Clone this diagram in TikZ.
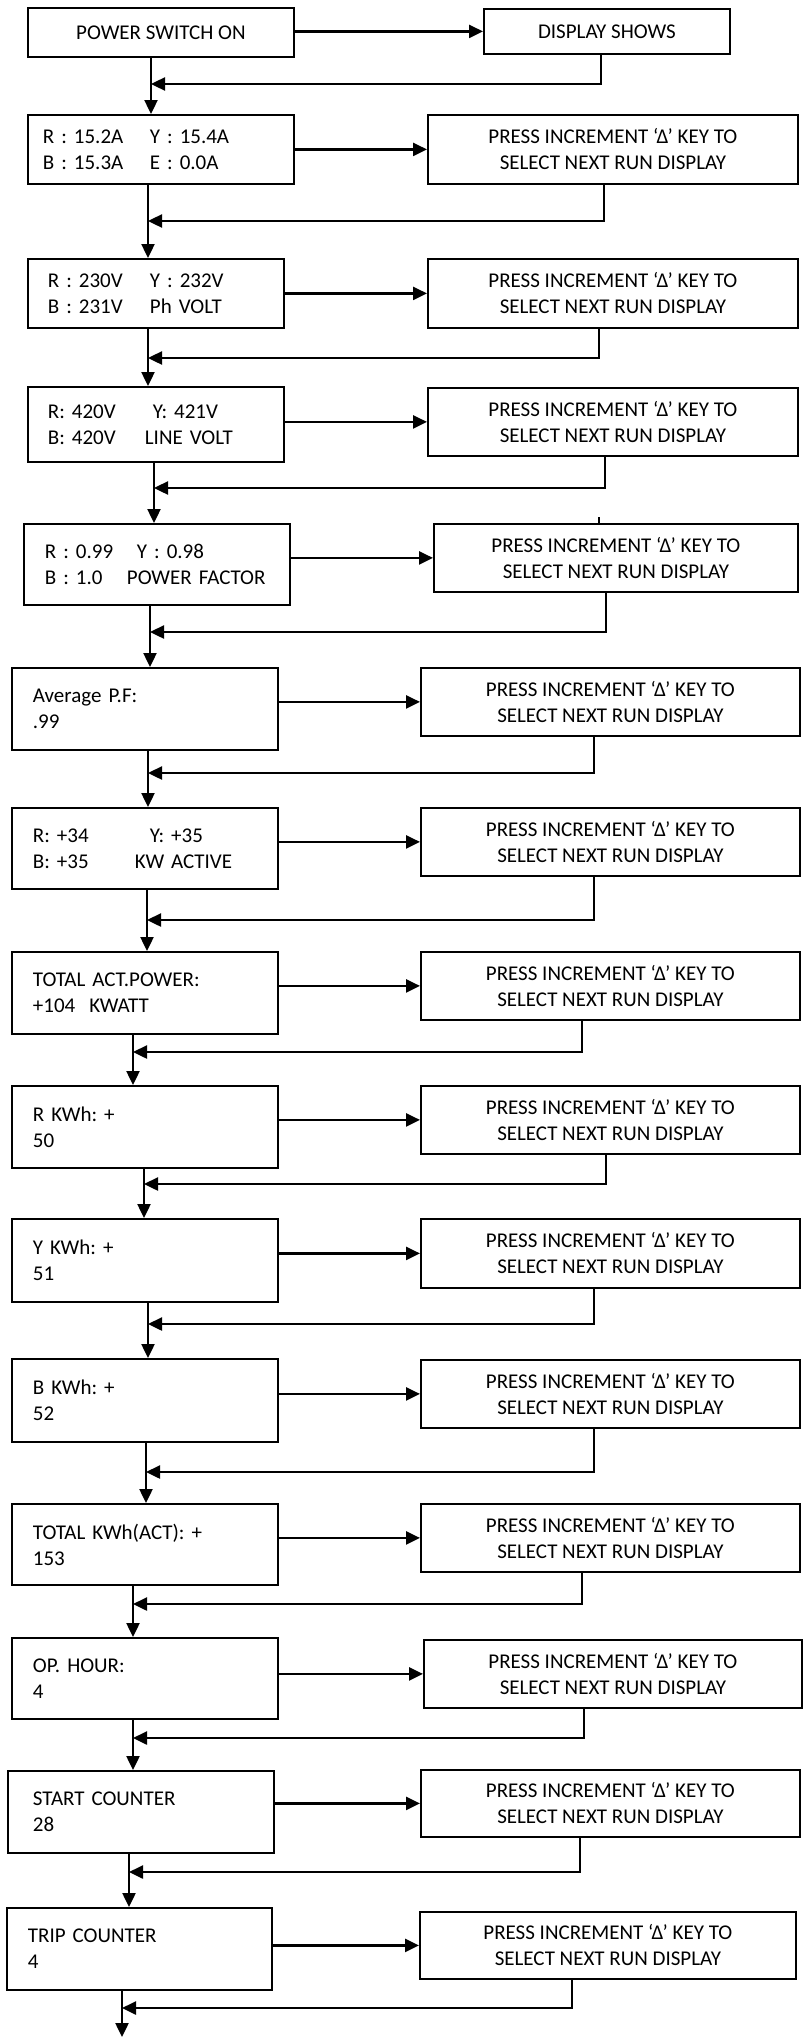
\documentclass[tikz,border=0pt]{standalone}
\usepackage{fontspec}
\setmainfont{Carlito}
\usetikzlibrary{arrows.meta,calc}
\tikzset{
	readout/.style={draw, line width=1.8pt, anchor=north west, align=left,
			minimum height=82pt, inner xsep=21pt, text width=224pt,
			font=\fontsize{21pt}{26pt}\selectfont\frenchspacing},
	hint/.style={draw, line width=1.8pt, anchor=north west, align=center,
			minimum width=379pt, minimum height=68pt,
			font=\fontsize{21pt}{26pt}\selectfont\frenchspacing},
	pfeil/.style={line width=2.4pt, -{Triangle[length=14pt,width=13pt]}}
}
\newcommand{\spalte}[2]{\makebox[#1pt][l]{#2}}
\newcommand{\weiter}{PRESS INCREMENT ‘Δ’ KEY TO\\SELECT NEXT RUN DISPLAY}

\begin{document}
\begin{tikzpicture}[x=1pt,y=-1pt]
        \fill[white] (0,0) rectangle (804,2037);
        \useasboundingbox (0,0) rectangle (804,2037);
        % Kaesten links
        \node[hint, minimum width=266pt, minimum height=49pt] (l0) at (27,7) {POWER SWITCH ON};
        \node[readout, minimum height=69pt, inner xsep=15pt, text width=236pt] (l1) at (27,114)
            {\spalte{107}{R : 15.2A}Y : 15.4A\\\spalte{107}{B : 15.3A}E : 0.0A};
        \node[readout, minimum height=69pt, inner xsep=20pt, text width=216pt] (l2) at (27,258)
            {\spalte{102}{R : 230V}Y : 232V\\\spalte{102}{B : 231V}Ph VOLT};
        \node[readout, minimum height=75pt, inner xsep=20pt, text width=216pt] (l3) at (27,386)
            {\spalte{105}{R: 420V}Y: 421V\\\spalte{97}{B: 420V}LINE VOLT};
        \node[readout, minimum height=81pt] (l4) at (23,523)
            {\spalte{92}{R : 0.99}Y : 0.98\\\spalte{82}{B : 1.0}POWER FACTOR};
        \node[readout] (l5) at (11,667) {Average P.F:\\.99};
        \node[readout, minimum height=81pt] (l6) at (11,807)
            {\spalte{117}{R: +34}Y: +35\\\spalte{102}{B: +35}KW ACTIVE};
        \node[readout] (l7) at (11,951) {TOTAL ACT.POWER:\\+104\ \ KWATT};
        \node[readout] (l8) at (11,1085) {R KWh: +\\50};
        \node[readout, minimum height=83pt] (l9) at (11,1218) {Y KWh: +\\51};
        \node[readout, minimum height=83pt] (l10) at (11,1358) {B KWh: +\\52};
        \node[readout, minimum height=81pt] (l11) at (11,1503) {TOTAL KWh(ACT): +\\153};
        \node[readout, minimum height=81pt] (l12) at (11,1637) {OP. HOUR:\\4};
        \node[readout, inner xsep=25pt, text width=216pt] (l13) at (7,1770) {START COUNTER\\28};
        \node[readout, text width=223pt] (l14) at (6,1907) {TRIP COUNTER\\4};
        % Kaesten rechts
        \node[hint, minimum width=246pt, minimum height=45pt] (r0) at (483,8) {DISPLAY SHOWS};
        \node[hint, minimum width=370pt, minimum height=69pt] (r1) at (427,114) {\weiter};
        \node[hint, minimum width=370pt, minimum height=69pt] (r2) at (427,258) {\weiter};
        \node[hint, minimum width=370pt] (r3) at (427,387) {\weiter};
        \node[hint, minimum width=364pt] (r4) at (433,523) {\weiter};
        \node[hint] (r5) at (420,667) {\weiter};
        \node[hint] (r6) at (420,807) {\weiter};
        \node[hint] (r7) at (420,951) {\weiter};
        \node[hint] (r8) at (420,1085) {\weiter};
        \node[hint, minimum height=69pt] (r9) at (420,1218) {\weiter};
        \node[hint] (r10) at (420,1359) {\weiter};
        \node[hint] (r11) at (420,1503) {\weiter};
        \node[hint, minimum width=378pt] (r12) at (423,1639) {\weiter};
        \node[hint, minimum height=67pt] (r13) at (420,1769) {\weiter};
        \node[hint, minimum width=376pt, minimum height=67pt] (r14) at (419,1911) {\weiter};
        % Knickpunkte
        \coordinate (j1) at (151,84);
        \coordinate (j2) at (148,221);
        \coordinate (j3) at (148,358);
        \coordinate (j4) at (154,488);
        \coordinate (j5) at (150,632);
        \coordinate (j6) at (148,773);
        \coordinate (j7) at (147,920);
        \coordinate (j8) at (133,1052);
        \coordinate (j9) at (144,1184);
        \coordinate (j10) at (148,1324);
        \coordinate (j11) at (146,1472);
        \coordinate (j12) at (133,1604);
        \coordinate (j13) at (133,1738);
        \coordinate (j14) at (129,1872);
        \coordinate (j15) at (122,2008);
        \coordinate (ende) at (122,2037);
        % Pfeile zeichnen
        \foreach \i/\dx in {0/-6,1/-9,2/-14,3/-8,4/-10,5/-16.5,6/-16.5,7/-28.5,8/-4.5,
                9/-16.5,10/-16.5,11/-28.5,12/-29,13/-30.5,14/-36}
        {
            \pgfmathtruncatemacro\k{\i+1}
            \draw[pfeil] (l\i.east |- r\i.west) -- (r\i.west);
            \draw[pfeil] ($(r\i.south)+(\dx,0)$) |- (j\k);
        }
        \foreach \i in {0,...,13}
        {
            \pgfmathtruncatemacro\k{\i+1}
            \draw[pfeil] (l\i.south -| j\k) -- (l\k.north -| j\k);
        }
        \draw[pfeil] (l14.south -| j15) -- (ende);
        % kleiner Strich
        \draw[line width=1.8pt] ($(r4.north)+(-17,-6)$) -- ($(r4.north)+(-17,0)$);
    \end{tikzpicture}
\end{document}
